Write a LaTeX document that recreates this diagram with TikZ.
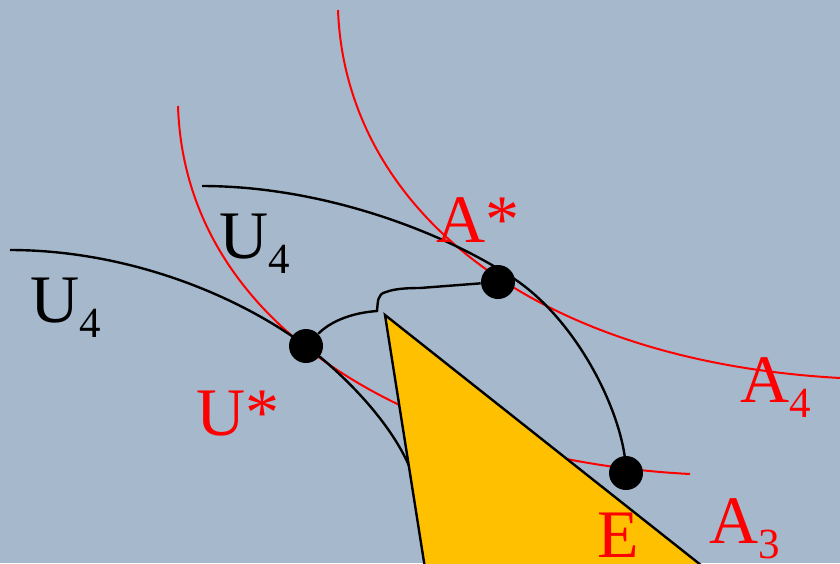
\documentclass[tikz,border=0pt]{standalone}
\usepackage{fontspec}
\setmainfont{Liberation Serif}
\newcommand{\lowsub}[1]{\raisebox{-7.5pt}{\fontsize{21.5}{22}\selectfont #1}}
\definecolor{slate}{RGB}{166,184,204}
\definecolor{amber}{RGB}{255,192,0}

\begin{document}
\begin{tikzpicture}[x=0.5pt, y=-0.5pt,
  redcurve/.style={red, line width=1pt},
  blackcurve/.style={black, line width=1.2pt},
  dot/.style={circle, fill=black, inner sep=0pt, minimum size=17pt},
  lbl/.style={anchor=base west, inner sep=0pt, font=\fontsize{34}{40}\selectfont}]

  % --- background ---
  \fill[slate] (0,0) rectangle (840,563);
  \useasboundingbox (0,0) rectangle (840,563);
  \clip (0,0) rectangle (840,563);

  % --- A4 curve ---
  \draw[redcurve] (338,10) .. controls (345,200) and (520,360) .. (840,378);

  % --- U* curve ---
  \draw[redcurve] (178,106) .. controls (185,330) and (420,460) .. (690,474);

  % --- U4 lower ---
  \draw[blackcurve] (10,250) .. controls (120,250) and (230,290) .. (306,346)
    .. controls (340,371) and (390,420) .. (410,468);

  % --- U4 upper ---
  \draw[blackcurve] (202,186) .. controls (320,186) and (440,230) .. (513,278)
    .. controls (580,322) and (626,420) .. (626,473);

  % --- E triangle ---
  \draw[fill=amber, line width=1.2pt] (385,315) -- (740,596) -- (430,600) -- cycle;

  % --- points ---
  \node[dot] (Ustar) at (306,346) {};
  \node[dot] (Astar) at (498,282) {};
  \node[dot] (Edot) at (626,473) {};

  % --- link U* -> A* ---
  \draw[blackcurve] (Ustar) .. controls (330,322) and (350,313) .. (377,311)
    .. controls (378,302) and (377,294) .. (386,292)
    .. controls (394,289) and (405,288) .. (420,288) -- (Astar);

  % --- labels ---
  \node[lbl] (ufour) at (30,322) {U\lowsub{4}};
  \node[lbl] (ufourtop) at (219,258) {U\lowsub{4}};
  \node[lbl, red] (astarlbl) at (436,242) {A*};
  \node[lbl, red] (ustarlbl) at (196,435) {U*};
  \node[lbl, red] (afour) at (740,402) {A\lowsub{4}};
  \node[lbl, red] (elbl) at (597,557) {E};
  \node[lbl, red] (athree) at (709,543) {A\lowsub{3}};
\end{tikzpicture}
\end{document}
